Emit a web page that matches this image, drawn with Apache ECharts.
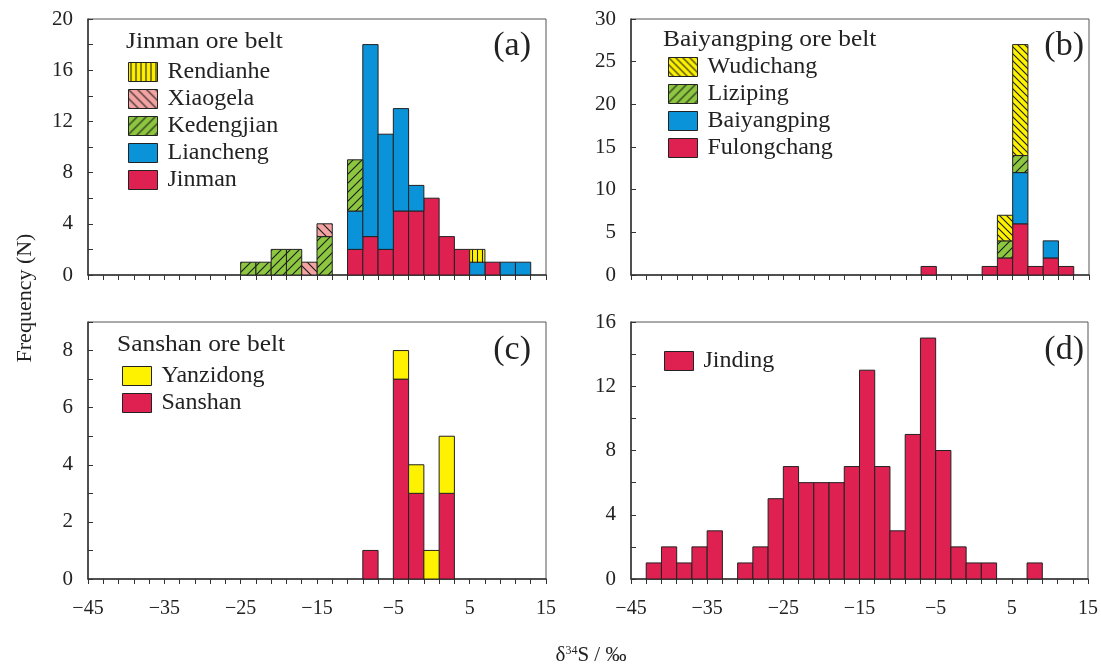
<!DOCTYPE html>
<html><head><meta charset="utf-8">
<script src="https://cdn.jsdelivr.net/npm/echarts@6/dist/echarts.min.js"></script>
<style>html,body{margin:0;padding:0;background:#fff}#c{width:1101px;height:669px}</style>
</head><body><div id="c"></div>
<script>
// Bin edges (δ34S, ‰), 2‰ bins
const binEdges = [-45,-43,-41,-39,-37,-35,-33,-31,-29,-27,-25,-23,-21,-19,-17,-15,-13,-11,-9,-7,-5,-3,-1,1,3,5,7,9,11,13,15];
// tick labels
const xLabelValues = [-45,-35,-25,-15,-5,5,15];
const yLabelsA = [0,4,8,12,16,20];
const yLabelsB = [0,5,10,15,20,25,30];
const yLabelsC = [0,2,4,6,8];
const yLabelsD = [0,4,8,12,16];

// (a) Jinman ore belt (counts per bin, stacked bottom -> top)
const aJinman     = [0,0,0,0,0,0,0,0,0,0, 0,0,0,0,0,0,0,2,3,2, 5,5,6,3,2,0,1,0,0,0];
const aLiancheng  = [0,0,0,0,0,0,0,0,0,0, 0,0,0,0,0,0,0,3,15,9, 8,2,0,0,0,1,0,1,1,0];
const aKedengjian = [0,0,0,0,0,0,0,0,0,0, 1,1,2,2,0,3,0,4,0,0, 0,0,0,0,0,0,0,0,0,0];
const aXiaogela   = [0,0,0,0,0,0,0,0,0,0, 0,0,0,0,1,1,0,0,0,0, 0,0,0,0,0,0,0,0,0,0];
const aRendianhe  = [0,0,0,0,0,0,0,0,0,0, 0,0,0,0,0,0,0,0,0,0, 0,0,0,0,0,1,0,0,0,0];
// (b) Baiyangping ore belt
const bFulongchang = [0,0,0,0,0,0,0,0,0,0, 0,0,0,0,0,0,0,0,0,1, 0,0,0,1,2,6,1,2,1,0];
const bBaiyangping = [0,0,0,0,0,0,0,0,0,0, 0,0,0,0,0,0,0,0,0,0, 0,0,0,0,0,6,0,2,0,0];
const bLiziping    = [0,0,0,0,0,0,0,0,0,0, 0,0,0,0,0,0,0,0,0,0, 0,0,0,0,2,2,0,0,0,0];
const bWudichang   = [0,0,0,0,0,0,0,0,0,0, 0,0,0,0,0,0,0,0,0,0, 0,0,0,0,3,13,0,0,0,0];
// (c) Sanshan ore belt
const cSanshan   = [0,0,0,0,0,0,0,0,0,0, 0,0,0,0,0,0,0,0,1,0, 7,3,0,3,0,0,0,0,0,0];
const cYanzidong = [0,0,0,0,0,0,0,0,0,0, 0,0,0,0,0,0,0,0,0,0, 1,1,1,2,0,0,0,0,0,0];
// (d) Jinding
const dJinding = [0,1,2,1,2,3,0,1,2,5, 7,6,6,6,7,13,7,3,9,15, 8,2,1,1,0,0,1,0,0,0];

const RED = '#DE2150', BLUE = '#0A93D8', YELLOW = '#FFF200', GREEN = '#8DC63F', PINK = '#F4A3A3';
const FONT = 'Liberation Serif';
const INK = '#222';

function hatch(bg, kind, p) {
  const c = document.createElement('canvas'); c.width = p; c.height = p;
  const g = c.getContext('2d'); g.fillStyle = bg; g.fillRect(0, 0, p, p);
  g.strokeStyle = '#1a1a1a'; g.lineWidth = 1.1; g.beginPath();
  if (kind === '|') { g.moveTo(p / 2, 0); g.lineTo(p / 2, p); }
  else if (kind === '/') { g.moveTo(-1, p + 1); g.lineTo(p + 1, -1); g.moveTo(-2, 2); g.lineTo(2, -2); g.moveTo(p - 2, p + 2); g.lineTo(p + 2, p - 2); }
  else { g.moveTo(-1, -1); g.lineTo(p + 1, p + 1); g.moveTo(-2, p - 2); g.lineTo(2, p + 2); g.moveTo(p - 2, -2); g.lineTo(p + 2, 2); }
  g.stroke();
  return { image: c, repeat: 'repeat' };
}
const fillRendianhe = hatch(YELLOW, '|', 5);
const fillXiaogela = hatch(PINK, '\\', 9);
const fillKedengjian = hatch(GREEN, '/', 9);
const fillWudichang = hatch(YELLOW, '\\', 7);
const fillLiziping = hatch(GREEN, '/', 9);

function makeRender(fill) {
  return function (params, api) {
    const p0 = api.coord([api.value(0), api.value(2)]);
    const p1 = api.coord([api.value(1), api.value(3)]);
    return { type: 'rect', shape: { x: p0[0], y: p1[1], width: p1[0] - p0[0], height: p0[1] - p1[1] },
      style: { fill: fill, stroke: INK, lineWidth: 1 } };
  };
}
function stackSeries(list, idx) {
  const base = binEdges.slice(1).map(() => 0);
  return list.map(s => {
    const data = [];
    s.counts.forEach((n, i) => { if (n > 0) data.push([binEdges[i], binEdges[i + 1], base[i], base[i] + n]); base[i] += n; });
    return { type: 'custom', name: s.name, xAxisIndex: idx, yAxisIndex: idx, renderItem: makeRender(s.fill),
      data: data, encode: { x: [0, 1], y: [2, 3] }, itemStyle: { color: s.fill, borderColor: INK, borderWidth: 1 },
      silent: true, animation: false };
  });
}
const panelA = [
  { name: 'Jinman', counts: aJinman, fill: RED },
  { name: 'Liancheng', counts: aLiancheng, fill: BLUE },
  { name: 'Kedengjian', counts: aKedengjian, fill: fillKedengjian },
  { name: 'Xiaogela', counts: aXiaogela, fill: fillXiaogela },
  { name: 'Rendianhe', counts: aRendianhe, fill: fillRendianhe }];
const panelB = [
  { name: 'Fulongchang', counts: bFulongchang, fill: RED },
  { name: 'Baiyangping', counts: bBaiyangping, fill: BLUE },
  { name: 'Liziping', counts: bLiziping, fill: fillLiziping },
  { name: 'Wudichang', counts: bWudichang, fill: fillWudichang }];
const panelC = [
  { name: 'Sanshan', counts: cSanshan, fill: RED },
  { name: 'Yanzidong', counts: cYanzidong, fill: YELLOW }];
const panelD = [{ name: 'Jinding', counts: dJinding, fill: RED }];

const grids = [
  { left: 88, top: 19, width: 458, height: 256 },
  { left: 631, top: 19, width: 458, height: 256 },
  { left: 88, top: 322, width: 458, height: 257 },
  { left: 631, top: 322, width: 458, height: 257 }].map(g => Object.assign(g, { show: true, borderColor: '#555', borderWidth: 1, containLabel: false }));

function xAxis(idx, showLabels) {
  return { type: 'value', gridIndex: idx, min: -45, max: 15, interval: 2,
    axisLine: { show: true, onZero: false, lineStyle: { color: '#333', width: 1.5 } },
    axisTick: { show: true, inside: false, length: 5, lineStyle: { color: '#333' } },
    splitLine: { show: false },
    axisLabel: { show: showLabels, margin: 20, fontFamily: FONT, fontSize: 20, color: INK,
      formatter: v => xLabelValues.includes(v) ? (v < 0 ? '\u2212' + (-v) : String(v)) : '' } };
}
function yAxis(idx, max, interval, labels) {
  return { type: 'value', gridIndex: idx, min: 0, max: max, interval: interval,
    axisLine: { show: true, onZero: false, lineStyle: { color: '#333', width: 1.5 } },
    axisTick: { show: true, inside: true, length: 5, lineStyle: { color: '#333' } },
    splitLine: { show: false },
    axisLabel: { margin: 15, fontFamily: FONT, fontSize: 21, color: INK,
      formatter: v => labels.includes(v) ? String(v) : '' } };
}
function legend(list, left, top) {
  return { orient: 'vertical', left: left, top: top, padding: 0, itemWidth: 29, itemHeight: 19, itemGap: 3,
    selectedMode: false, icon: 'rect',
    textStyle: { fontFamily: FONT, fontSize: 24, color: INK, lineHeight: 19, padding: [0, 0, 0, 5] },
    data: list.slice().reverse().map(s => ({ name: s.name, icon: 'rect', itemStyle: { color: s.fill, borderColor: INK, borderWidth: 1 } })) };
}
function txt(text, x, y, size, align, extra) {
  return Object.assign({ type: 'text', x: x, y: y, silent: true,
    style: { text: text, fontFamily: FONT, fontSize: size, fill: INK, align: align || 'left', verticalAlign: 'middle' } }, extra || {});
}

const chart = echarts.init(document.getElementById('c'), null, { renderer: 'canvas' });
chart.setOption({
  animation: false,
  backgroundColor: '#fff',
  grid: grids,
  xAxis: [xAxis(0, false), xAxis(1, false), xAxis(2, true), xAxis(3, true)],
  yAxis: [yAxis(0, 20, 2, yLabelsA), yAxis(1, 30, 5, yLabelsB), yAxis(2, 9, 1, yLabelsC), yAxis(3, 16, 2, yLabelsD)],
  legend: [legend(panelA, 128, 60), legend(panelB, 668, 55), legend(panelC, 122, 364), legend(panelD, 664, 349)],
  series: [].concat(stackSeries(panelA, 0), stackSeries(panelB, 1), stackSeries(panelC, 2), stackSeries(panelD, 3)),
  graphic: [
    txt('Jinman ore belt', 126, 42, 24, 'left', { scaleX: 1.06 }),
    txt('Baiyangping ore belt', 663, 40, 24, 'left', { scaleX: 1.06 }),
    txt('Sanshan ore belt', 117, 345, 24, 'left', { scaleX: 1.06 }),
    txt('(a)', 531, 46, 34, 'right'),
    txt('(b)', 1084, 46, 34, 'right'),
    txt('(c)', 531, 350, 34, 'right'),
    txt('(d)', 1084, 350, 34, 'right'),
    txt('Frequency (N)', 25, 298, 22, 'center', { rotation: Math.PI / 2 }),
    { type: 'text', x: 591, y: 655, silent: true,
      style: { text: '{m|δ}{s|34}{m|S / ‰}', align: 'center', verticalAlign: 'middle', fill: INK,
        rich: { m: { fontFamily: FONT, fontSize: 21, fill: INK }, s: { fontFamily: FONT, fontSize: 12, verticalAlign: 'top', fill: INK } } } }
  ]
});
</script>
</body></html>
